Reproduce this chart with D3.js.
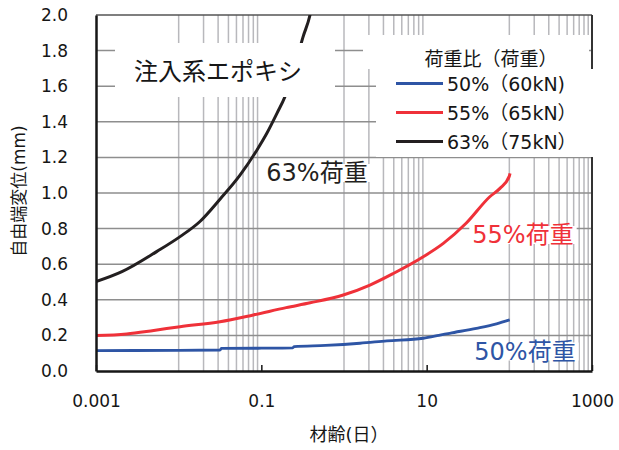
<!DOCTYPE html>
<html>
<head>
<meta charset="utf-8">
<script src="https://cdn.jsdelivr.net/npm/d3@7"></script>
<style>
  html, body { margin: 0; padding: 0; background: #fff; }
  svg { display: block; }
  text { font-family: "DejaVu Sans", "Noto Sans CJK JP", sans-serif; }
</style>
</head>
<body>
<svg id="chart" width="619" height="450"></svg>
<script>
// Creep displacement vs. age (days), injected epoxy anchors
const series50 = [ // 50% load (60 kN)
  [0.001, 0.115], [0.01, 0.116], [0.0316, 0.118], [0.033, 0.127], [0.1, 0.128],
  [0.24, 0.130], [0.25, 0.137], [0.6, 0.144], [1.56, 0.156], [3.3, 0.169],
  [9.1, 0.184], [14, 0.200], [19, 0.212], [40, 0.240], [70, 0.265], [101, 0.287]
];
const series55 = [ // 55% load (65 kN)
  [0.001, 0.199], [0.00235, 0.208], [0.005, 0.228], [0.0104, 0.249], [0.0316, 0.277],
  [0.08, 0.315], [0.2, 0.356], [0.39, 0.383], [0.98, 0.427], [2.06, 0.483],
  [3.95, 0.548], [9.1, 0.642], [15.9, 0.717], [30, 0.830], [58, 0.979],
  [77, 1.026], [100, 1.095], [102, 1.11]
];
const series63 = [ // 63% load (75 kN)
  [0.001, 0.502], [0.00206, 0.558], [0.00547, 0.672], [0.0104, 0.755], [0.0181, 0.840],
  [0.0316, 0.965], [0.0552, 1.100], [0.0886, 1.242], [0.117, 1.337], [0.155, 1.449],
  [0.193, 1.541], [0.25, 1.70], [0.319, 1.876], [0.388, 2.0], [0.42, 2.08]
];
const xTickValues = [0.001, 0.1, 10, 1000];
const xTickLabels = ["0.001", "0.1", "10", "1000"];
const yTickValues = [0, 0.2, 0.4, 0.6, 0.8, 1.0, 1.2, 1.4, 1.6, 1.8, 2.0];
const legendTitle = "荷重比（荷重）";
const legendLabels = ["50%（60kN)", "55%（65kN）", "63%（75kN）"];
const curveLabels = ["50%荷重", "55%荷重", "63%荷重"];
const seriesColors = ["#2e55a5", "#ef3139", "#231f20"];

const svg = d3.select("#chart");
const plotL = 96, plotR = 592, plotT = 15, plotB = 371;
const ink = "#161616";

const x = d3.scaleLog().domain([0.001, 1000]).range([plotL, plotR]);
const y = d3.scaleLinear().domain([0, 2]).range([plotB, plotT]);

svg.append("defs").append("clipPath").attr("id", "plotClip")
  .append("rect").attr("x", plotL).attr("y", plotT)
  .attr("width", plotR - plotL).attr("height", plotB - plotT);

// vertical minor grid: 1..9 × 0.01, 1, 100
const vGrid = [];
[0.01, 1, 100].forEach(b => { for (let k = 1; k <= 9; k++) vGrid.push(b * k); });
svg.append("g").selectAll("line").data(vGrid).join("line")
  .attr("x1", d => x(d)).attr("x2", d => x(d))
  .attr("y1", plotT).attr("y2", plotB)
  .attr("stroke", "#b8b8bc").attr("stroke-width", 1.5);

// horizontal grid
svg.append("g").selectAll("line").data(yTickValues.filter(v => v > 0 && v < 2)).join("line")
  .attr("x1", plotL).attr("x2", plotR)
  .attr("y1", d => y(d)).attr("y2", d => y(d))
  .attr("stroke", "#8e8e8e").attr("stroke-width", 1.5);

// frame: top and right
svg.append("line").attr("x1", plotL).attr("x2", plotR).attr("y1", plotT).attr("y2", plotT)
  .attr("stroke", "#555").attr("stroke-width", 1.5);
svg.append("line").attr("x1", plotR).attr("x2", plotR).attr("y1", plotT).attr("y2", plotB)
  .attr("stroke", "#333").attr("stroke-width", 2);

// series
const line = d3.line().x(d => x(d[0])).y(d => y(d[1])).curve(d3.curveMonotoneX);
const plot = svg.append("g").attr("clip-path", "url(#plotClip)");
[series50, series55, series63].forEach((s, i) => {
  plot.append("path").datum(s).attr("d", line)
    .attr("fill", "none").attr("stroke", seriesColors[i])
    .attr("stroke-width", i === 0 ? 2.8 : 3).attr("stroke-linejoin", "round");
});

// axes (left & bottom)
const xAxis = d3.axisBottom(x).tickValues(xTickValues)
  .tickFormat((d, i) => xTickLabels[i]).tickSizeInner(-6).tickSizeOuter(0).tickPadding(24);
const gx = svg.append("g").attr("transform", `translate(0,${plotB})`).call(xAxis);
gx.select(".domain").attr("stroke", ink).attr("stroke-width", 2.5);
gx.selectAll(".tick line").attr("stroke", ink).attr("stroke-width", 1.5);
gx.selectAll(".tick text").attr("font-size", 17).attr("fill", ink)
  .attr("font-family", "'DejaVu Sans', sans-serif");

const yAxis = d3.axisLeft(y).tickValues(yTickValues)
  .tickFormat(d3.format(".1f")).tickSize(0).tickPadding(28);
const gy = svg.append("g").attr("transform", `translate(${plotL},0)`).call(yAxis);
gy.select(".domain").attr("stroke", ink).attr("stroke-width", 2.5);
gy.selectAll(".tick text").attr("font-size", 17).attr("fill", ink)
  .attr("font-family", "'DejaVu Sans', sans-serif");

// axis titles
svg.append("text").attr("transform", "translate(19,191) rotate(-90)")
  .attr("text-anchor", "middle").attr("dominant-baseline", "central")
  .attr("font-size", 17).style("fill", ink).text("自由端変位(mm)");
svg.append("text").attr("x", 349).attr("y", 441)
  .attr("text-anchor", "middle").attr("font-size", 18).style("fill", ink).text("材齢(日）");

// heading box
svg.append("rect").attr("x", 115).attr("y", 43).attr("width", 220).attr("height", 54).attr("fill", "#fff");
svg.append("text").attr("x", 218).attr("y", 72).attr("text-anchor", "middle")
  .attr("dominant-baseline", "central").attr("font-size", 24).style("fill", ink).text("注入系エポキシ");

// legend
svg.append("rect").attr("x", 363).attr("y", 35).attr("width", 226).attr("height", 34).attr("fill", "#fff");
svg.append("rect").attr("x", 376).attr("y", 69).attr("width", 228).attr("height", 88).attr("fill", "#fff");
svg.append("text").attr("x", 491).attr("y", 58.5).attr("text-anchor", "middle")
  .attr("dominant-baseline", "central").attr("font-size", 19).style("fill", ink).text(legendTitle);
const leg = svg.append("g").selectAll("g").data(legendLabels).join("g")
  .attr("transform", (d, i) => `translate(0,${83.5 + i * 29})`);
leg.append("line").attr("x1", 396).attr("x2", 443).attr("y1", 0).attr("y2", 0)
  .attr("stroke", (d, i) => seriesColors[i]).attr("stroke-width", 3);
leg.append("text").attr("x", 447).attr("y", 0).attr("dominant-baseline", "central")
  .attr("font-size", 19).style("fill", ink).text(d => d);

// curve labels with white backing
const labelPos = [[525, 351.5], [523, 235], [317, 173]];
curveLabels.forEach((t, i) => {
  const g = svg.append("g");
  const txt = g.append("text").attr("x", labelPos[i][0]).attr("y", labelPos[i][1])
    .attr("text-anchor", "middle").attr("dominant-baseline", "central")
    .attr("font-size", 24).style("fill", seriesColors[i]).text(t);
  const bb = txt.node().getBBox();
  g.insert("rect", "text").attr("x", bb.x - 3).attr("y", bb.y + 5)
    .attr("width", bb.width + 6).attr("height", bb.height - 10).attr("fill", "#fff");
});
</script>
</body>
</html>
